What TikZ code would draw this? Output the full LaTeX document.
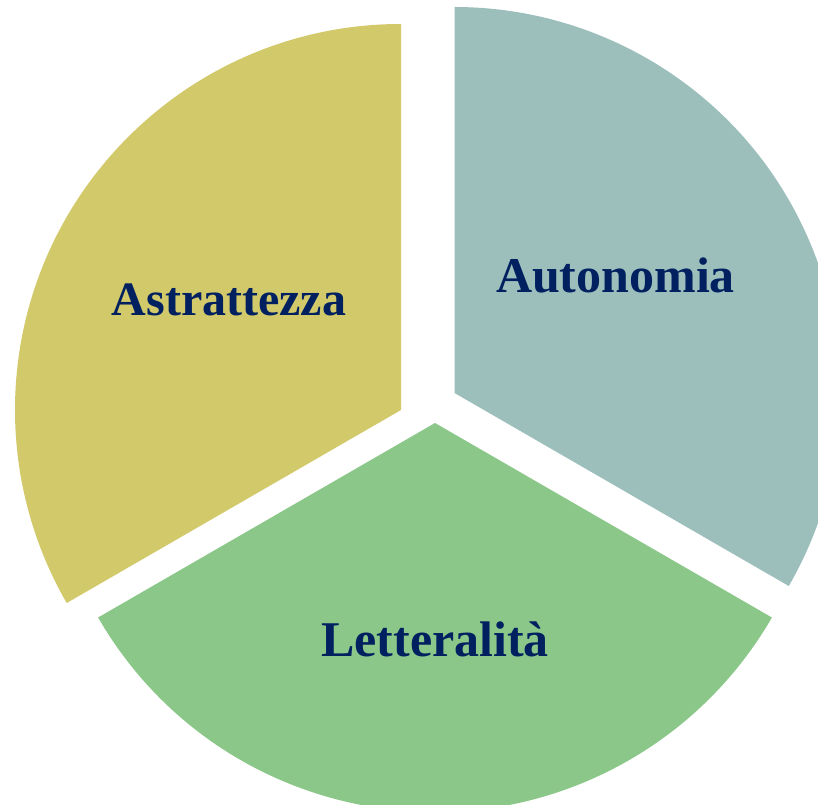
\documentclass[tikz,border=0pt]{standalone}
\usepackage{fontspec}
\setmainfont{Liberation Serif}
\definecolor{Afill}{HTML}{D2C96B}
\definecolor{Bfill}{HTML}{9DBFBC}
\definecolor{Cfill}{HTML}{8AC788}
\definecolor{Ltext}{HTML}{002060}

\begin{document}
\begin{tikzpicture}[x=1pt,y=1pt,line join=round,
  slicelabel/.style={anchor=base,inner sep=0pt,text=Ltext,
    font=\fontsize{50}{60}\selectfont\bfseries}]
\useasboundingbox (0,0) rectangle (818,804);
\clip (0,0) rectangle (818,804);

% ---- the three slices, each pulled a little away from the middle ----
\foreach \x/\y/\a/\b/\r/\c in {401/394/90/210/386/Afill, 454.5/411/-30/90/386/Bfill,
                               435/381/210/330/389/Cfill}{
  \fill[\c] (\x,\y) -- ++(\a:\r) arc[start angle=\a, end angle=\b, radius=\r] -- cycle;}

% ---- slice names ----
\node[slicelabel,font=\fontsize{48}{58}\selectfont\bfseries] (astr) at (229,488.5) {Astrattezza};
\node[slicelabel] (auto) at (615.5,511) {Autonomia};
\node[slicelabel] (lett) at (435,147.5) {Letteralità};
\end{tikzpicture}
\end{document}
